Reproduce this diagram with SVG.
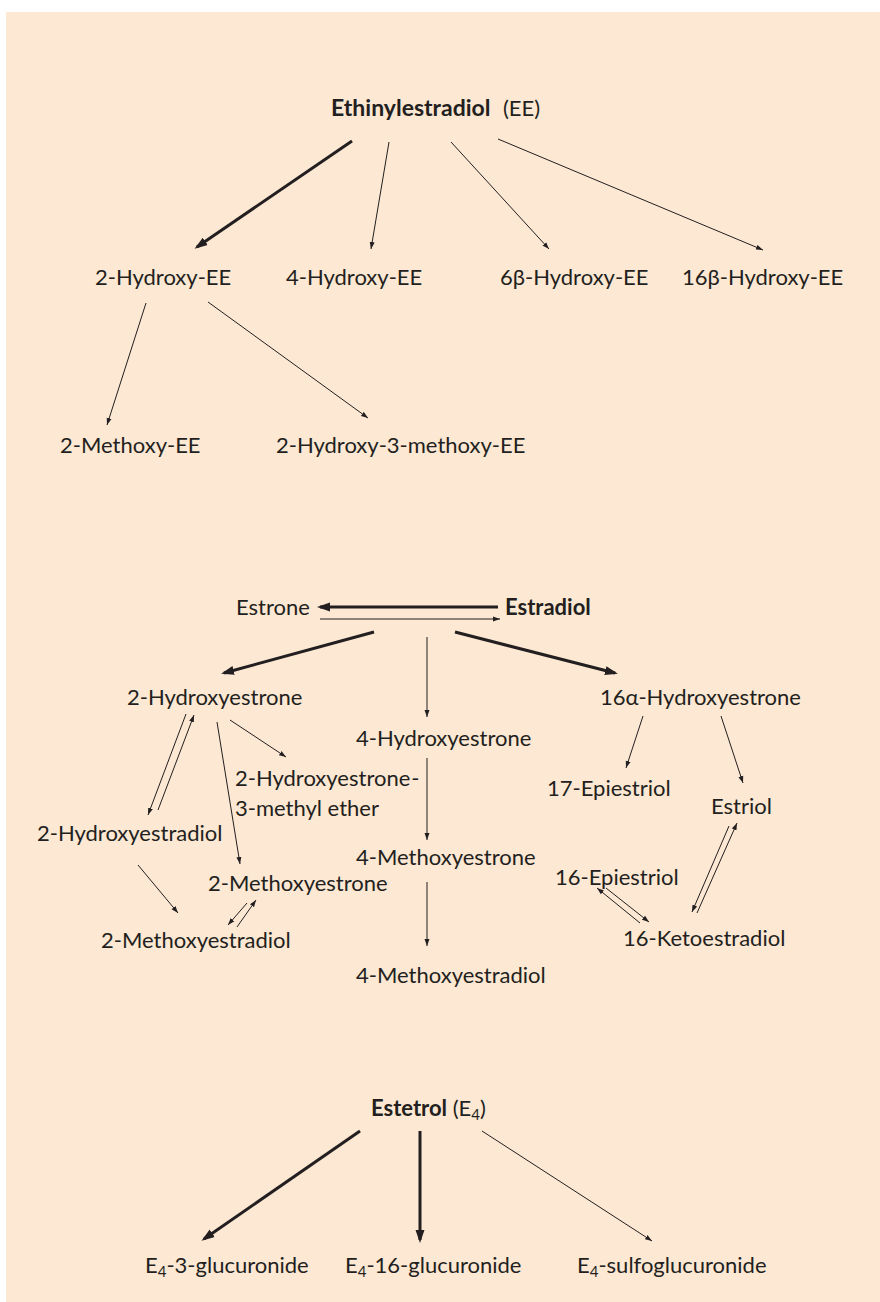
<svg xmlns="http://www.w3.org/2000/svg" width="880" height="1302" viewBox="0 0 880 1302">
<style>
text{font-family:Lato,"Open Sans","Liberation Sans",sans-serif;font-size:22px;fill:#231F20}
.b{font-weight:bold}
.tb{font-size:23px;font-weight:bold}
.sub{font-size:15px}
.thick{stroke:#231F20;stroke-width:3;fill:none;marker-end:url(#ah)}
.thin{stroke:#231F20;stroke-width:1;fill:none;marker-end:url(#as)}
</style>
<defs>
<marker id="ah" markerUnits="userSpaceOnUse" markerWidth="14" markerHeight="10" refX="10" refY="5" orient="auto" viewBox="0 0 14 10"><path d="M0,0.5 L13,5 L0,9.5 z" fill="#231F20"/></marker>
<marker id="as" markerUnits="userSpaceOnUse" markerWidth="8" markerHeight="6" refX="7" refY="3" orient="auto" viewBox="0 0 8 6"><path d="M0,0.5 L7,3 L0,5.5 z" fill="#231F20"/></marker>
</defs>
<rect x="6" y="12" width="874" height="1290" fill="#FCE8D3"/>

<g id="connectors">
<line class="thick" x1="352" y1="141" x2="197" y2="247"/>
<line class="thin" x1="389" y1="142" x2="371" y2="249"/>
<line class="thin" x1="451" y1="142" x2="549" y2="249"/>
<line class="thin" x1="498" y1="139" x2="763" y2="250"/>
<line class="thin" x1="146" y1="303" x2="107" y2="425"/>
<line class="thin" x1="208" y1="302" x2="368" y2="418"/>

<line class="thick" x1="498" y1="607" x2="320" y2="607"/>
<line class="thin" x1="320" y1="619" x2="500" y2="619"/>
<line class="thick" x1="374" y1="632" x2="224" y2="673"/>
<line class="thin" x1="427" y1="637" x2="427" y2="717"/>
<line class="thick" x1="455" y1="632" x2="615" y2="673"/>
<line class="thin" x1="186" y1="714" x2="148" y2="815"/>
<line class="thin" x1="158" y1="810" x2="194" y2="715"/>
<line class="thin" x1="217" y1="722" x2="240" y2="864"/>
<line class="thin" x1="230" y1="720" x2="286" y2="757"/>
<line class="thin" x1="138" y1="865" x2="178" y2="913"/>
<line class="thin" x1="247" y1="903" x2="228" y2="925"/>
<line class="thin" x1="237" y1="927" x2="256" y2="900"/>
<line class="thin" x1="427" y1="758" x2="427" y2="840"/>
<line class="thin" x1="427" y1="882" x2="427" y2="946"/>
<line class="thin" x1="643" y1="716" x2="626" y2="768"/>
<line class="thin" x1="721" y1="716" x2="743" y2="783"/>
<line class="thin" x1="729" y1="826" x2="692" y2="912"/>
<line class="thin" x1="697" y1="913" x2="737" y2="823"/>
<line class="thin" x1="606" y1="888" x2="649" y2="922"/>
<line class="thin" x1="640" y1="923" x2="597" y2="888"/>

<line class="thick" x1="360" y1="1131" x2="204" y2="1239"/>
<line class="thick" x1="420" y1="1131" x2="420" y2="1240"/>
<line class="thin" x1="482" y1="1131" x2="652" y2="1241"/>
</g>

<g id="n-ee"><text x="331" y="116"><tspan class="tb">Ethinylestradiol</tspan><tspan x="503">(EE)</tspan></text></g>
<g id="n-2oh-ee"><text x="95" y="285">2-Hydroxy-EE</text></g>
<g id="n-4oh-ee"><text x="286" y="285">4-Hydroxy-EE</text></g>
<g id="n-6b-ee"><text x="500" y="285">6β-Hydroxy-EE</text></g>
<g id="n-16b-ee"><text x="682" y="285">16β-Hydroxy-EE</text></g>
<g id="n-2meo-ee"><text x="60" y="453">2-Methoxy-EE</text></g>
<g id="n-2oh3meo-ee"><text x="276" y="453">2-Hydroxy-3-methoxy-EE</text></g>

<g id="n-estrone"><text x="236" y="615">Estrone</text></g>
<g id="n-estradiol"><text x="505" y="615" class="b">Estradiol</text></g>
<g id="n-2ohe1"><text x="127" y="705">2-Hydroxyestrone</text></g>
<g id="n-4ohe1"><text x="356" y="746">4-Hydroxyestrone</text></g>
<g id="n-16aohe1"><text x="600" y="705">16α-Hydroxyestrone</text></g>
<g id="n-2ohe1me"><text x="235" y="786">2-Hydroxyestrone<tspan dx="1">-</tspan></text><text x="235" y="816">3-methyl ether</text></g>
<g id="n-17epi"><text x="547" y="796">17-Epiestriol</text></g>
<g id="n-estriol"><text x="711" y="814">Estriol</text></g>
<g id="n-2ohe2"><text x="37" y="841">2-Hydroxyestradiol</text></g>
<g id="n-4meoe1"><text x="356" y="865">4-Methoxyestrone</text></g>
<g id="n-16epi"><text x="555" y="885">16-Epiestriol</text></g>
<g id="n-2meoe1"><text x="208" y="891">2-Methoxyestrone</text></g>
<g id="n-2meoe2"><text x="101" y="948">2-Methoxyestradiol</text></g>
<g id="n-16keto"><text x="623" y="946">16-Ketoestradiol</text></g>
<g id="n-4meoe2"><text x="356" y="983">4-Methoxyestradiol</text></g>

<g id="n-e4"><text x="371" y="1116"><tspan class="b">Estetrol</tspan> (E<tspan class="sub" dy="4">4</tspan><tspan dy="-4">)</tspan></text></g>
<g id="n-e4-3g"><text x="145" y="1273">E<tspan class="sub" dy="4">4</tspan><tspan dy="-4">-3-glucuronide</tspan></text></g>
<g id="n-e4-16g"><text x="345" y="1273">E<tspan class="sub" dy="4">4</tspan><tspan dy="-4">-16-glucuronide</tspan></text></g>
<g id="n-e4-sg"><text x="577" y="1273">E<tspan class="sub" dy="4">4</tspan><tspan dy="-4">-sulfoglucuronide</tspan></text></g>
</svg>
